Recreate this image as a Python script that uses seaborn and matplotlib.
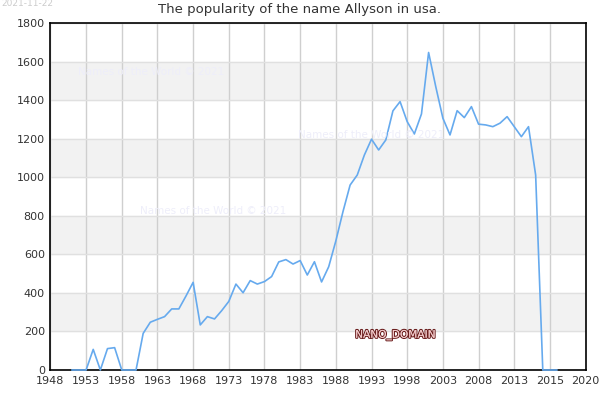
import matplotlib
matplotlib.use("Agg")
import matplotlib.pyplot as plt
import matplotlib.patheffects as pe
import seaborn as sns
import numpy as np
import pandas as pd

# popularity of "Allyson" per year
years = list(range(1951, 2020))
counts = [0, 0, 0, 107, 0, 111, 116, 0, 0, 0,
          190, 248, 263, 277, 317, 317, 384, 455, 234, 277,
          265, 308, 356, 446, 401, 464, 446, 459, 485, 561,
          573, 550, 568, 493, 562, 457, 536, 670, 822, 960,
          1012, 1116, 1198, 1142, 1194, 1345, 1393, 1289, 1225, 1329,
          1648, 1471, 1307, 1220, 1346, 1310, 1367, 1276, 1272, 1263,
          1281, 1315, 1263, 1211, 1263, 1012, 0, 0, 0]
tick_labels = ["1948", "1953", "1958", "1963", "1968", "1973", "1978", "1983",
               "1988", "1993", "1998", "2003", "2008", "2013", "2015", "2020"]
y_ticks = list(range(0, 1801, 200))

df = pd.DataFrame({"year": years, "count": counts})

sns.set_style("white")
plt.rcParams["font.family"] = ["DejaVu Sans"]

fig = plt.figure(figsize=(6, 4), dpi=100)
ax = fig.add_axes([0.084, 0.075, 0.892, 0.867])

# alternating bands
for lo in range(200, 1800, 400):
    ax.axhspan(lo, lo + 200, color="#f2f2f2", zorder=0)

sns.lineplot(data=df, x="year", y="count", ax=ax, color="#66aaee",
             linewidth=1.2)
for ln in ax.lines:
    ln.set_zorder(5)
    ln.set_clip_on(False)

x_ticks = np.arange(1948, 2024, 5)
ax.set_xlim(1948, 2023)
ax.set_ylim(0, 1800)
ax.set_xticks(x_ticks)
ax.set_xticklabels(tick_labels)
ax.set_yticks(y_ticks)
ax.tick_params(axis="both", labelsize=8, colors="#333333", length=0, pad=4)
ax.grid(axis="x", color="#cfcfcf", linewidth=1)
ax.grid(axis="y", color="#e0e0e0", linewidth=1)
ax.set_axisbelow(True)
for s in ax.spines.values():
    s.set_color("black")
    s.set_linewidth(1.2)
ax.set_xlabel("")
ax.set_ylabel("")

fig.text(0.5, 0.975, "The popularity of the name Allyson in usa.",
         ha="center", va="center", fontsize=9.5, color="#333333")
fig.text(0.003, 0.99, "2021-11-22", ha="left", va="center",
         fontsize=6.5, color="#cccccc")

for x, y in [(0.13, 0.82), (0.497, 0.662), (0.233, 0.473)]:
    fig.text(x, y, "Names of the World © 2021", fontsize=7.5,
             color="#eeeefa", ha="left", va="center", zorder=1)

t = fig.text(0.592, 0.162, "NANO_DOMAIN", fontsize=7.6, color="#f0c8c8",
             ha="left", va="center")
t.set_path_effects([pe.withStroke(linewidth=1.6, foreground="#6b1f1f"), pe.Normal()])

fig.savefig("out.png", dpi=100)
